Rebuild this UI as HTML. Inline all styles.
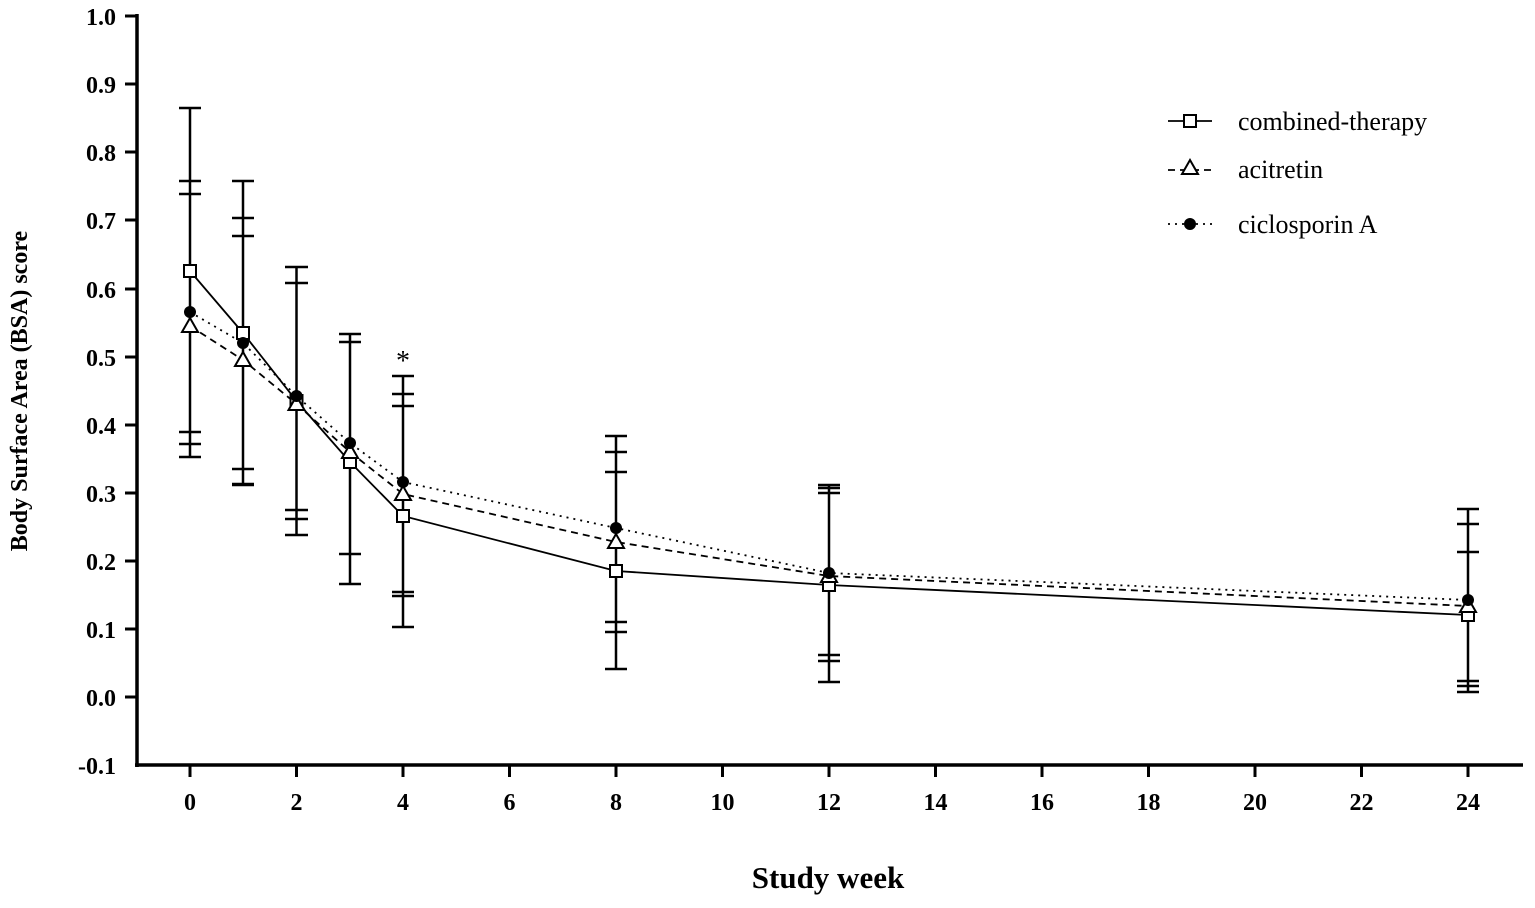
<!DOCTYPE html>
<html><head><style>body{margin:0;background:#fff}</style></head><body>
<svg width="1535" height="903" xmlns="http://www.w3.org/2000/svg" font-family="Liberation Serif, serif">
<rect width="1535" height="903" fill="#fff"/>
<g stroke="#000" stroke-width="3.5" fill="none">
<line x1="137" y1="14" x2="137" y2="767"/>
<line x1="135" y1="765" x2="1523" y2="765"/>
</g>
<g stroke="#000" stroke-width="3">
<line x1="125" x2="137" y1="16" y2="16"/><line x1="125" x2="137" y1="84" y2="84"/><line x1="125" x2="137" y1="152" y2="152"/><line x1="125" x2="137" y1="220" y2="220"/><line x1="125" x2="137" y1="289" y2="289"/><line x1="125" x2="137" y1="357" y2="357"/><line x1="125" x2="137" y1="425" y2="425"/><line x1="125" x2="137" y1="493" y2="493"/><line x1="125" x2="137" y1="561" y2="561"/><line x1="125" x2="137" y1="629" y2="629"/><line x1="125" x2="137" y1="697" y2="697"/>
</g>
<g font-size="24" font-weight="bold" text-anchor="end">
<text x="116" y="25">1.0</text><text x="116" y="93">0.9</text><text x="116" y="161">0.8</text><text x="116" y="229">0.7</text><text x="116" y="298">0.6</text><text x="116" y="366">0.5</text><text x="116" y="434">0.4</text><text x="116" y="502">0.3</text><text x="116" y="570">0.2</text><text x="116" y="638">0.1</text><text x="116" y="706">0.0</text><text x="116" y="774">-0.1</text>
</g>
<g stroke="#000" stroke-width="3">
<line x1="190" x2="190" y1="765" y2="777"/><line x1="296.5" x2="296.5" y1="765" y2="777"/><line x1="403" x2="403" y1="765" y2="777"/><line x1="509.5" x2="509.5" y1="765" y2="777"/><line x1="616" x2="616" y1="765" y2="777"/><line x1="722.5" x2="722.5" y1="765" y2="777"/><line x1="829" x2="829" y1="765" y2="777"/><line x1="935.5" x2="935.5" y1="765" y2="777"/><line x1="1042" x2="1042" y1="765" y2="777"/><line x1="1148.5" x2="1148.5" y1="765" y2="777"/><line x1="1255" x2="1255" y1="765" y2="777"/><line x1="1361.5" x2="1361.5" y1="765" y2="777"/><line x1="1468" x2="1468" y1="765" y2="777"/>
</g>
<g font-size="24" font-weight="bold" text-anchor="middle">
<text x="190" y="810">0</text><text x="296.5" y="810">2</text><text x="403" y="810">4</text><text x="509.5" y="810">6</text><text x="616" y="810">8</text><text x="722.5" y="810">10</text><text x="829" y="810">12</text><text x="935.5" y="810">14</text><text x="1042" y="810">16</text><text x="1148.5" y="810">18</text><text x="1255" y="810">20</text><text x="1361.5" y="810">22</text><text x="1468" y="810">24</text>
</g>
<text x="828" y="888" font-size="31" font-weight="bold" text-anchor="middle">Study week</text>
<text transform="translate(27,391) rotate(-90)" font-size="24" font-weight="bold" text-anchor="middle">Body Surface Area (BSA) score</text>
<text x="403" y="370" font-size="28" text-anchor="middle">*</text>
<g stroke="#000" stroke-width="2.5">
<line x1="190" x2="190" y1="108" y2="457"/><line x1="179" x2="201" y1="108" y2="108"/><line x1="179" x2="201" y1="181" y2="181"/><line x1="179" x2="201" y1="194" y2="194"/><line x1="179" x2="201" y1="432" y2="432"/><line x1="179" x2="201" y1="444" y2="444"/><line x1="179" x2="201" y1="457" y2="457"/>
<line x1="243" x2="243" y1="181" y2="485"/><line x1="232" x2="254" y1="181" y2="181"/><line x1="232" x2="254" y1="218" y2="218"/><line x1="232" x2="254" y1="236" y2="236"/><line x1="232" x2="254" y1="469" y2="469"/><line x1="232" x2="254" y1="484" y2="484"/><line x1="232" x2="254" y1="485" y2="485"/>
<line x1="296.5" x2="296.5" y1="267" y2="535"/><line x1="285" x2="308" y1="267" y2="267"/><line x1="285" x2="308" y1="283" y2="283"/><line x1="285" x2="308" y1="510" y2="510"/><line x1="285" x2="308" y1="519" y2="519"/><line x1="285" x2="308" y1="535" y2="535"/>
<line x1="350" x2="350" y1="334" y2="584"/><line x1="339" x2="361" y1="334" y2="334"/><line x1="339" x2="361" y1="342" y2="342"/><line x1="339" x2="361" y1="554" y2="554"/><line x1="339" x2="361" y1="584" y2="584"/>
<line x1="403" x2="403" y1="376" y2="627"/><line x1="392" x2="414" y1="376" y2="376"/><line x1="392" x2="414" y1="394" y2="394"/><line x1="392" x2="414" y1="406" y2="406"/><line x1="392" x2="414" y1="592" y2="592"/><line x1="392" x2="414" y1="596" y2="596"/><line x1="392" x2="414" y1="627" y2="627"/>
<line x1="616" x2="616" y1="436" y2="669"/><line x1="605" x2="627" y1="436" y2="436"/><line x1="605" x2="627" y1="452" y2="452"/><line x1="605" x2="627" y1="472" y2="472"/><line x1="605" x2="627" y1="622" y2="622"/><line x1="605" x2="627" y1="632" y2="632"/><line x1="605" x2="627" y1="669" y2="669"/>
<line x1="829" x2="829" y1="485" y2="682"/><line x1="818" x2="840" y1="485" y2="485"/><line x1="818" x2="840" y1="488" y2="488"/><line x1="818" x2="840" y1="493" y2="493"/><line x1="818" x2="840" y1="655" y2="655"/><line x1="818" x2="840" y1="661" y2="661"/><line x1="818" x2="840" y1="682" y2="682"/>
<line x1="1468" x2="1468" y1="509" y2="692"/><line x1="1457" x2="1479" y1="509" y2="509"/><line x1="1457" x2="1479" y1="524" y2="524"/><line x1="1457" x2="1479" y1="552" y2="552"/><line x1="1457" x2="1479" y1="681" y2="681"/><line x1="1457" x2="1479" y1="686" y2="686"/><line x1="1457" x2="1479" y1="692" y2="692"/>
</g>
<g fill="none" stroke="#000" stroke-width="1.8">
<polyline points="190,271 243,333 296.5,401 350,462 403,516 616,571 829,585 1468,615"/>
<polyline stroke-dasharray="7,5" points="190,326 243,360 296.5,404 350,452 403,494 616,542 829,576 1468,606"/>
<polyline stroke-dasharray="2,5" points="190,312 243,343 296.5,396 350,443 403,482 616,528 829,573 1468,600"/>
</g>
<g fill="#fff" stroke="#000" stroke-width="2">
<rect x="184" y="265" width="12" height="12"/><rect x="237" y="327" width="12" height="12"/><rect x="290.5" y="395" width="12" height="12"/><rect x="344" y="456" width="12" height="12"/><rect x="397" y="510" width="12" height="12"/><rect x="610" y="565" width="12" height="12"/><rect x="823" y="579" width="12" height="12"/><rect x="1462" y="609" width="12" height="12"/>
<path d="M190 318 l8 14 h-16z M243 352 l8 14 h-16z M296.5 396 l8 14 h-16z M350 444 l8 14 h-16z M403 486 l8 14 h-16z M616 534 l8 14 h-16z M829 568 l8 14 h-16z M1468 598 l8 14 h-16z"/>
</g>
<g fill="#000">
<circle cx="190" cy="312" r="6"/><circle cx="243" cy="343" r="6"/><circle cx="296.5" cy="396" r="6"/><circle cx="350" cy="443" r="6"/><circle cx="403" cy="482" r="6"/><circle cx="616" cy="528" r="6"/><circle cx="829" cy="573" r="6"/><circle cx="1468" cy="600" r="6"/>
</g>
<g stroke="#000" stroke-width="1.8" fill="none">
<line x1="1168" x2="1212" y1="121" y2="121"/><rect x="1184" y="115" width="12" height="12" fill="#fff" stroke-width="2"/>
<line x1="1168" x2="1212" y1="170" y2="170" stroke-dasharray="7,5"/><path d="M1190 160 l8 14 h-16z" fill="#fff" stroke-width="2"/>
<line x1="1168" x2="1212" y1="224" y2="224" stroke-dasharray="2,5"/><circle cx="1190" cy="224" r="6" fill="#000" stroke="none"/>
</g>
<g font-size="26">
<text x="1238" y="130">combined-therapy</text><text x="1238" y="178">acitretin</text><text x="1238" y="233">ciclosporin A</text>
</g>
</svg>
</body></html>
